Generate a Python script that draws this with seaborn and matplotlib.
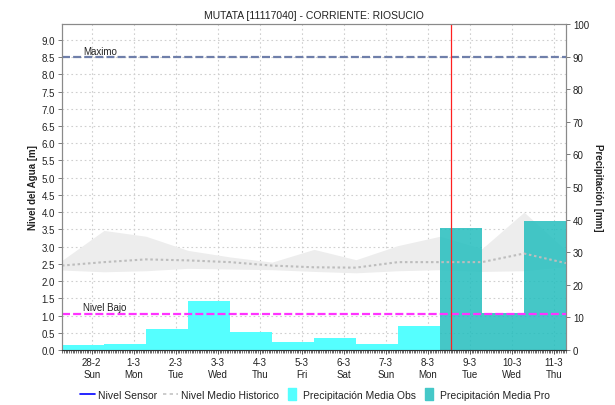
import numpy as np
import pandas as pd
import matplotlib
matplotlib.use("Agg")
import matplotlib.pyplot as plt
import seaborn as sns
from matplotlib.lines import Line2D
from matplotlib.ticker import MultipleLocator

# ---------------- data ----------------
day_labels = ['28-2', '1-3', '2-3', '3-3', '4-3', '5-3', '6-3', '7-3', '8-3', '9-3', '10-3', '11-3']
weekday_labels = ['Sun', 'Mon', 'Tue', 'Wed', 'Thu', 'Fri', 'Sat', 'Sun', 'Mon', 'Tue', 'Wed', 'Thu']
precip_obs = [1.6, 1.9, 6.5, 15.1, 5.5, 2.5, 3.7, 1.9, 7.5]      # mm, 27-2 07h .. 8-3 07h
precip_pro = [37.5, 11.2, 39.5]                                   # mm, forecast days
hist_upper = [2.60, 3.47, 3.30, 2.89, 2.70, 2.55, 2.92, 2.62, 3.03, 3.30, 2.94, 4.00, 2.89]
hist_lower = [2.32, 2.27, 2.30, 2.37, 2.35, 2.33, 2.28, 2.24, 2.30, 2.33, 2.28, 2.30, 2.42]
hist_medio = [2.45, 2.55, 2.63, 2.60, 2.55, 2.45, 2.40, 2.39, 2.55, 2.55, 2.55, 2.80, 2.52]
nivel_maximo = 8.5
nivel_bajo = 1.05
now_day = 8.56
title = 'MUTATA [11117040] - CORRIENTE: RIOSUCIO'

# ---------------- style ----------------
sns.set_theme(style='white')
plt.rcParams['font.family'] = ['Liberation Sans', 'DejaVu Sans']
plt.rcParams['axes.unicode_minus'] = False

W, H = 615, 406
fig = plt.figure(figsize=(W / 100, H / 100), dpi=100)
L, R, T, B = 62, 566, 25, 351
ax = fig.add_axes([L / W, 1 - B / H, (R - L) / W, (B - T) / H])
ax2 = ax.twinx()

start = -1 + 7 / 24
edges = [start + i for i in range(13)]
centers = [e + 0.5 for e in edges[:-1]]
hist_t = edges

obs_df = pd.DataFrame({'t': centers[:9], 'mm': precip_obs})
pro_df = pd.DataFrame({'t': centers[9:], 'mm': precip_pro})

# grid + historic band (bottom axes)
ax.set_axisbelow(True)
ax.grid(True, color='#CFCFCF', linestyle=(0, (1.5, 2.5)), linewidth=0.8)
ax.fill_between(hist_t, hist_lower, hist_upper, color='#EDEDED', linewidth=0, zorder=1)

# precipitation bars (top axes, mm)
sns.histplot(data=obs_df, x='t', weights='mm', bins=edges[:10], ax=ax2,
             color='#55FFFF', alpha=1.0, linewidth=0, element='bars')
sns.histplot(data=pro_df, x='t', weights='mm', bins=edges[9:], ax=ax2,
             color='#24BEBE', alpha=0.85, linewidth=0, element='bars')

# lines drawn above the bars, in metre units
ax2.plot(hist_t, hist_medio, transform=ax.transData,
         color='#BDBDBD', linewidth=1.5, linestyle=(0, (1.2, 1.3)))
ax2.plot([edges[0], edges[-1]], [nivel_maximo, nivel_maximo], transform=ax.transData,
         color='#6F7FAA', linewidth=1.6, linestyle=(0, (3.6, 1.4)))
ax2.plot([edges[0], edges[-1]], [nivel_bajo, nivel_bajo], transform=ax.transData,
         color='#FF33FF', linewidth=1.6, linestyle=(0, (3.6, 1.4)))
ax2.axvline(now_day, color='#FF2020', linewidth=0.9)
ax2.text(-0.21, nivel_maximo + 0.04, 'Maximo', transform=ax.transData, fontsize=7, va='bottom', color='#222222')
ax2.text(-0.21, nivel_bajo + 0.04, 'Nivel Bajo', transform=ax.transData, fontsize=7, va='bottom', color='#222222')

# axes limits / ticks
ax.set_xlim(edges[0], edges[-1])
ax2.set_xlim(edges[0], edges[-1])
ax.set_ylim(0, 9.46)
ax2.set_ylim(0, 100)
ax.set_xticks(range(len(day_labels)))
ax.set_xticklabels([f'{d}\n{w}' for d, w in zip(day_labels, weekday_labels)], fontsize=7, linespacing=1.25)
ax.xaxis.set_minor_locator(MultipleLocator(1 / 24))
yt = np.arange(0, 9.01, 0.5)
ax.set_yticks(yt)
ax.set_yticklabels([f'{v:.1f}' for v in yt], fontsize=7)
ax2.set_yticks(range(0, 101, 10))
ax2.set_yticklabels([str(v) for v in range(0, 101, 10)], fontsize=7)
ax.tick_params(axis='x', which='major', length=3, width=0.6, color='#333333', pad=2, labelcolor='#222222', bottom=True)
ax.tick_params(axis='x', which='minor', length=2, width=0.5, color='#333333', bottom=True)
ax.tick_params(axis='y', length=3, width=0.6, color='#666666', pad=2, labelcolor='#222222', left=True)
ax2.tick_params(axis='y', length=3, width=0.6, color='#666666', pad=2, labelcolor='#222222', right=True)
ax.set_xlabel('')
ax.set_ylabel('')
ax2.set_ylabel('')
ax2.set_xlabel('')

for a in (ax, ax2):
    for s in a.spines.values():
        s.set_color('#8A8A8A')
        s.set_linewidth(0.8)
ax.spines['bottom'].set_color('#333333')
ax2.spines['bottom'].set_color('#333333')

# texts
fig.text(314 / W, 1 - 16 / H, title, ha='center', va='center', fontsize=7.5, color='#222222')
fig.text(33 / W, 1 - 188 / H, 'Nivel del Agua [m]', rotation=90, ha='center', va='center',
         fontsize=7, fontweight='bold', color='#222222')
fig.text(598 / W, 1 - 188 / H, 'Precipitación [mm]', rotation=-90, ha='center', va='center',
         fontsize=7, fontweight='bold', color='#222222')

# legend
rect = [(-0.35, -0.5), (0.35, -0.5), (0.35, 0.5), (-0.35, 0.5), (-0.35, -0.5)]
handles = [
    Line2D([], [], color='#0000FF', linewidth=1.2),
    Line2D([], [], color='#C4C4C4', linewidth=1.2, linestyle=(0, (2, 2))),
    Line2D([], [], color='#55FFFF', marker=rect, markersize=9, linestyle='none'),
    Line2D([], [], color='#45C8C8', marker=rect, markersize=9, linestyle='none'),
]
labels = ['Nivel Sensor', 'Nivel Medio Historico', 'Precipitación Media Obs', 'Precipitación Media Pro']
fig.legend(handles, labels, loc='center', bbox_to_anchor=(0.512, 1 - 396 / H), ncol=4,
           frameon=False, fontsize=7.5, handlelength=1.5, columnspacing=0.5, handletextpad=0.3,
           labelcolor='#222222')

fig.savefig('out.png', dpi=100)
